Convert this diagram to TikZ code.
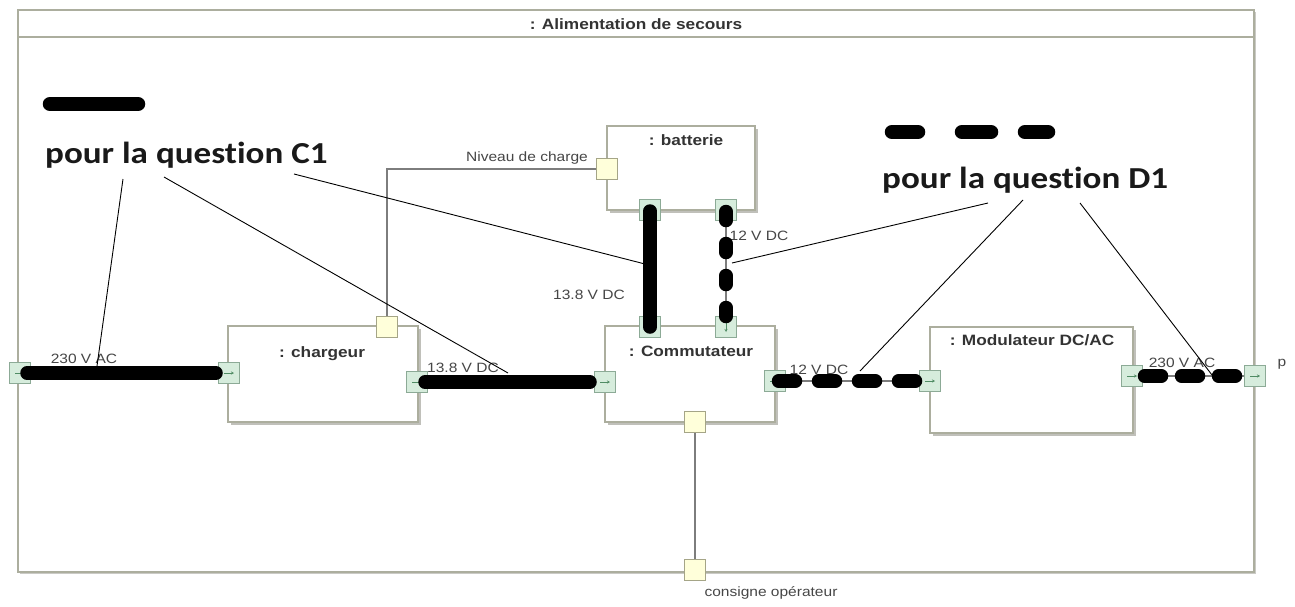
\documentclass[tikz,border=0pt]{standalone}
\usepackage{fontspec}
\newfontfamily\labfont[FakeStretch=1.15]{Liberation Sans}
\newfontfamily\legfont[FakeStretch=1.15,Ligatures={NoCommon}]{Carlito}
\usetikzlibrary{shadows,arrows.meta}
\definecolor{boxc}{RGB}{172,174,158}
\definecolor{shadc}{RGB}{150,150,140}
\definecolor{portg}{RGB}{214,236,220}
\definecolor{portgd}{RGB}{140,170,150}
\definecolor{porty}{RGB}{255,255,218}
\definecolor{portyd}{RGB}{165,165,135}
\definecolor{connc}{RGB}{125,125,125}
\definecolor{labc}{RGB}{70,70,70}
\definecolor{arrc}{RGB}{80,140,100}
\tikzset{
  blockbox/.style={rectangle, draw=boxc, line width=1.6pt, fill=white, inner sep=0pt,
    drop shadow={shadow xshift=2.5pt, shadow yshift=-2.5pt, fill=shadc, opacity=0.6}},
  framebox/.style={rectangle, draw=boxc, line width=1.6pt, fill=white, inner sep=0pt,
    drop shadow={shadow xshift=2pt, shadow yshift=-2pt, fill=shadc, opacity=0.5}},
  gport/.style={rectangle, draw=portgd, fill=portg, line width=1pt, minimum size=21pt, inner sep=0pt},
  gportr/.style={gport, path picture={\draw[arrc, line width=0.7pt, -{Stealth[length=3pt,width=3pt]}]
      ([xshift=-5pt]path picture bounding box.center) -- ([xshift=5pt]path picture bounding box.center);}},
  gportd/.style={gport, path picture={\draw[arrc, line width=0.7pt, -{Stealth[length=3pt,width=3pt]}]
      ([yshift=5pt]path picture bounding box.center) -- ([yshift=-5pt]path picture bounding box.center);}},
  yport/.style={rectangle, draw=portyd, fill=porty, line width=1pt, minimum size=21pt, inner sep=0pt},
  conn/.style={draw=connc, line width=1.3pt},
  marker/.style={draw=black, line width=13.5pt, line cap=round},
  annot/.style={draw=black, line width=0.9pt},
  lab/.style={font=\labfont\fontsize{13.5}{15}\selectfont, text=labc, inner sep=0pt, anchor=base},
  ttl/.style={font=\labfont\bfseries\fontsize{15}{17}\selectfont, text=black!80, inner sep=0pt, anchor=base},
  leg/.style={font=\legfont\bfseries\fontsize{30.5}{34}\selectfont, text=black!90, inner sep=0pt, anchor=base west},
}
\begin{document}
\begin{tikzpicture}[x=1pt,y=-1pt]
\useasboundingbox (0,0) rectangle (1295,606);
% frame
\node[framebox, minimum width=1236pt, minimum height=562pt] (frame) at (636,291) {};
\coordinate (tbL) at (18,37);
\coordinate (tbR) at (1254,37);
\draw[draw=boxc, line width=1.6pt] (tbL) -- (tbR);
\node[ttl] (frameT) at (636,29) {: Alimentation de secours};

% blocks
\node[blockbox, minimum width=190pt, minimum height=96pt] (chargeur) at (323,374) {};
\node[ttl] (chargeurT) at (322,357) {: chargeur};
\node[blockbox, minimum width=148pt, minimum height=84pt] (batterie) at (681,168) {};
\node[ttl] (batterieT) at (686,145) {: batterie};
\node[blockbox, minimum width=170pt, minimum height=96pt] (commut) at (690,374) {};
\node[ttl] (commutT) at (691,356) {: Commutateur};
\node[blockbox, minimum width=203pt, minimum height=106pt] (modul) at (1031.5,380) {};
\node[ttl] (modulT) at (1032,345) {: Modulateur DC/AC};

% thin connectors (drawn before ports)
\coordinate (cornerNC) at (387,169);
\draw[conn] (387,327) -- (cornerNC) -- (607,169);
\draw[conn] (695,422) -- (695,570);
\draw[conn] (20,373) -- (229,373);
\draw[conn] (417,382) -- (605,382);
\draw[conn] (775,381) -- (930,381);
\draw[conn] (1132,376) -- (1255,376);
\draw[conn] (650,210) -- (650,327);
\draw[conn] (726,210) -- (726,327);

% ports
\node[gportr] (pL) at (20,373) {};
\node[gportr] (chL) at (229,373) {};
\node[yport] (chT) at (387,327) {};
\node[gportr] (chR) at (417,382) {};
\node[gportd] (coT1) at (650,327) {};
\node[gportd] (coT2) at (726,327) {};
\node[gportr] (coL) at (605,382) {};
\node[gportr] (coR) at (775,381) {};
\node[yport] (coB) at (695,422) {};
\node[yport] (baL) at (607,169) {};
\node[gportd] (baB1) at (650,210) {};
\node[gportd] (baB2) at (726,210) {};
\node[gportr] (moL) at (930,381) {};
\node[gportr] (moR) at (1132,376) {};
\node[gportr] (pR) at (1255,376) {};
\node[yport] (pB) at (695,570) {};

% labels
\node[lab] (l1) at (84,363) {230 V AC};
\node[lab] (l2) at (463,372) {13.8 V DC};
\node[lab] (l3) at (589,299) {13.8 V DC};
\node[lab] (l4) at (759,240) {12 V DC};
\node[lab] (l5) at (819,374) {12 V DC};
\node[lab] (l6) at (1182,367) {230 V AC};
\node[lab, anchor=base east] (l7) at (588,161) {Niveau de charge};
\node[lab] (l8) at (1282,366) {p};
\node[lab] (l9) at (771,596) {consigne opérateur};

% markers (solid)
\draw[marker] ([xshift=7pt]pL.center) -- ([xshift=-13pt]chL.center);
\draw[marker] ([xshift=8pt]chR.center) -- ([xshift=-15pt]coL.center);
\draw[marker] ([yshift=-1pt]baB1.center) -- ([yshift=0pt]coT1.center);
% markers (dashed)
\draw[marker, dash pattern=on 9pt off 23pt] ([yshift=-1.5pt]baB2.center) -- ([yshift=3.5pt]coT2.center);
\draw[marker, dash pattern=on 17pt off 23pt] ([xshift=3.5pt]coR.center) -- ([xshift=-14.5pt]moL.center);
\draw[marker, dash pattern=on 17pt off 20pt] ([xshift=12.5pt]moR.center) -- ([xshift=-19.5pt]pR.center);

% legend
\coordinate (c1a) at (50,104);
\coordinate (c1b) at (138,104);
\draw[marker, line width=14.5pt] (c1a) -- (c1b);
\node[leg] (legC1) at (45,163) {pour la question C1};
\coordinate (d1a) at (892,132);
\coordinate (d1b) at (918,132);
\coordinate (d1c) at (962,132);
\coordinate (d1d) at (991,132);
\coordinate (d1e) at (1025,132);
\coordinate (d1f) at (1048,132);
\draw[marker, line width=14.5pt] (d1a) -- (d1b) (d1c) -- (d1d) (d1e) -- (d1f);
\node[leg] (legD1) at (882,188) {pour la question D1};

% annotation lines
\coordinate (a1s) at (123,179);
\coordinate (a1e) at (97,366);
\coordinate (a2s) at (164,177);
\coordinate (a2e) at (508,373);
\coordinate (a3s) at (294,174);
\coordinate (a3e) at (645,264);
\coordinate (a4s) at (988,203);
\coordinate (a4e) at (732,263);
\coordinate (a5s) at (1023,200);
\coordinate (a5e) at (860,371);
\coordinate (a6s) at (1080,203);
\coordinate (a6e) at (1212,375);
\draw[annot] (a1s) -- (a1e);
\draw[annot] (a2s) -- (a2e);
\draw[annot] (a3s) -- (a3e);
\draw[annot] (a4s) -- (a4e);
\draw[annot] (a5s) -- (a5e);
\draw[annot] (a6s) -- (a6e);
\end{tikzpicture}
\end{document}
